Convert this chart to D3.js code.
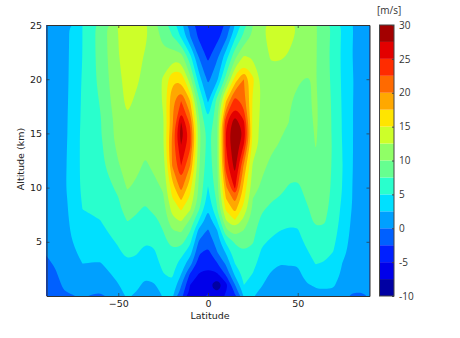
<!DOCTYPE html>
<html>
<head>
<meta charset="utf-8">
<script src="https://cdnjs.cloudflare.com/ajax/libs/d3/7.8.5/d3.min.js"></script>
<style>
  html, body { margin: 0; background: #fff; }
  svg { display: block; }
  text { font-family: "DejaVu Sans", sans-serif; fill: #111; }
</style>
</head>
<body>
<svg id="chart" width="460" height="338"></svg>
<script>
// zonal wind, one list per latitude, values in the order of `altitudes`
const altitudes = [0, 1, 2, 3, 4, 5, 6, 7, 8, 9, 10, 12, 14, 15, 16, 18, 20, 22, 24, 25];
const latitudes = [-90, -85, -80, -70, -60, -50, -45, -40, -35, -30, -25, -20, -15, -10, -5, 0, 5, 10, 15, 20, 25, 30, 35, 40, 45, 50, 55, 60, 65, 70, 75, 80, 85, 90];
const windByLatitude = [
  [-1.5, -1.1, -.7, -.3, .1, .3, .5, .6, .7, .8, .8, .9, 1, 1, 1, 1, 1, 1, 1, 1],
  [-1, -.6, -.2, .2, .5, .8, .9, 1, 1.1, 1.1, 1.2, 1.2, 1.3, 1.3, 1.3, 1.3, 1.4, 1.4, 1.5, 1.5],
  [-.2, .3, .7, 1, 1.4, 1.6, 1.7, 1.8, 1.9, 2, 2.2, 2.1, 2, 1.9, 1.9, 1.8, 1.7, 1.7, 1.6, 1.6],
  [.1, 1.3, 2, 2.5, 3, 3.6, 4.2, 4.6, 5, 5.2, 5.4, 5.5, 5.5, 5.5, 5.4, 5.3, 5.2, 5, 5, 5],
  [-.4, .8, 1.7, 2.4, 3, 3.7, 4.4, 5, 5.4, 5.8, 6.2, 6.8, 7, 7.3, 7.3, 7.7, 8.2, 8.4, 8.5, 8.4],
  [1.8, 2.4, 3, 3.7, 4.6, 5.3, 6, 6.5, 7, 7.4, 8, 9.8, 10.7, 11, 11, 11.7, 12, 12.4, 12.5, 12.7],
  [2.7, 3.3, 3.9, 4.6, 5.6, 6.2, 6.8, 7.6, 8.4, 9.3, 10.2, 10.9, 11.4, 11.8, 12.2, 13, 13.2, 13.6, 14.3, 15.1],
  [2.2, 3, 3.6, 4.4, 5.2, 5.9, 6.5, 7.2, 7.8, 8.6, 9.5, 10.7, 11.1, 11.4, 11.6, 12.2, 12.8, 13.4, 14.2, 15.1],
  [1.2, 2, 2.9, 3.7, 4.4, 5.1, 5.7, 6.4, 7.2, 7.9, 8.5, 9.6, 10.6, 10.8, 11, 11.4, 12, 12.2, 13, 13],
  [1.3, 2.3, 3.3, 4, 4.7, 5.4, 6, 7, 8, 8.6, 9.3, 10.5, 10.6, 10.5, 10.7, 11, 11.2, 11, 10.9, 10.7],
  [2.6, 3.6, 4.9, 5.7, 6.3, 6.9, 7.5, 8.1, 8.8, 9.6, 10.3, 11.2, 12.2, 12.2, 12.2, 12.8, 12.8, 10.6, 9.4, 8.8],
  [3, 4.5, 5.4, 6.2, 7, 8.2, 9.8, 11.8, 13.3, 14.8, 16.2, 20, 20.5, 20, 19.2, 19.5, 17, 11.5, 7.5, 6.5],
  [-1.6, .2, 2.5, 4, 6, 8.5, 10.3, 12.9, 15.3, 18, 21, 25, 27.6, 29, 27.6, 22.5, 17, 11.5, 4.5, 3.5],
  [-6, -5, -2.8, 1, 3.5, 5.6, 7.6, 9.8, 12.8, 14.5, 15.8, 20, 23.5, 23.5, 22, 17.5, 11, 6, 0, -.7],
  [-6, -6.8, -5.2, -3.7, -2.2, -.3, 1.6, 5, 7.7, 9, 9.5, 10.3, 10.7, 10.7, 10.5, 8, 3.5, 0, -3.2, -3.6],
  [-4.5, -6.8, -5.7, -4.3, -3.2, -1.6, -.3, 1.1, 2.5, 4, 4.9, 6, 6.5, 6.5, 5.2, 2.2, -.6, -3, -4.4, -4.6],
  [-6.5, -9.8, -5.5, -2.7, -.2, 1, 2.1, 5, 7.3, 8, 8.8, 9.5, 9.5, 9.5, 9.3, 8.5, 1.8, -.4, -3.5, -4],
  [-4.5, -6, -2.2, .4, 2.7, 5.4, 9.2, 12.5, 15.5, 17.5, 19.5, 24, 25, 25, 24.5, 17.2, 8.5, 4, -1, -2],
  [-3, -.2, 3, 5, 6.5, 7.8, 11.5, 15, 18.3, 21, 25.5, 28.5, 30, 30.5, 29, 24, 16, 9.5, 4.3, 2.5],
  [2.6, 5, 5.8, 6.5, 7.3, 8.8, 9.8, 11.8, 14, 15.5, 16.5, 19.5, 25, 27, 25.5, 21, 20, 13, 8, 6.8],
  [2.6, 3.4, 4.9, 5.8, 6.7, 7.7, 8.2, 8.8, 9.5, 10, 11.2, 12.1, 14, 14, 14.2, 14.6, 15.5, 12.2, 10.4, 10],
  [1.9, 2.6, 3.3, 3.9, 4.6, 5.4, 6.2, 7, 7.8, 8.6, 9.5, 10.6, 11.6, 11.6, 11.8, 12, 12, 11.3, 12, 12],
  [.8, 1.6, 2.3, 3.2, 4, 4.7, 5.5, 6.2, 7, 7.8, 8.3, 9.5, 10.5, 10.9, 11, 11.2, 11.6, 12.7, 13.3, 13.2],
  [.8, 1.5, 2.1, 2.5, 3.3, 4, 5, 5.8, 6.7, 7.3, 8.2, 9, 9.9, 10.2, 10.6, 10.6, 11, 12.8, 13.8, 13.8],
  [.8, 1.4, 2, 2.7, 3.2, 3.9, 4.7, 5.5, 6.1, 6.7, 7.3, 8.3, 9.2, 9.7, 10, 10.2, 10.6, 12.2, 13.4, 13.5],
  [.8, 1.3, 2, 2.6, 3.4, 4.2, 4.8, 5.5, 6.1, 6.7, 7.2, 8.2, 8.9, 9.2, 9.4, 9.6, 10.2, 11.5, 12.1, 12.2],
  [1.6, 2.3, 3.3, 4, 4.7, 5.5, 6.2, 6.9, 7.2, 7.7, 8, 8.7, 9, 9.1, 9.3, 9.7, 9.9, 11, 11.2, 11.2],
  [2, 2.7, 4, 5.1, 5.9, 6.6, 7.2, 7.9, 8.3, 8.7, 9, 9.6, 10.1, 10.2, 10.3, 10.3, 10.1, 10.2, 10.2, 10.2],
  [2, 2.8, 3.9, 4.8, 5.8, 6.5, 7.2, 7.7, 8.1, 8.4, 8.6, 9, 9.1, 9, 9, 8.9, 8.7, 8.5, 8.7, 8.8],
  [1.9, 2.7, 3.5, 4.3, 4.9, 5.4, 5.8, 6.2, 6.5, 6.7, 6.9, 7, 7.1, 7, 7, 6.9, 6.7, 6.6, 6.7, 6.8],
  [1, 1.5, 2.1, 2.4, 3.1, 3.5, 3.9, 4.2, 4.4, 4.7, 4.9, 5, 4.9, 4.8, 4.8, 4.7, 4.6, 4.5, 4.6, 4.7],
  [-.2, .6, 1.1, 1.4, 1.7, 1.9, 2.1, 2.3, 2.5, 2.6, 2.6, 2.7, 2.7, 2.7, 2.7, 2.7, 2.8, 2.6, 2.7, 2.7],
  [-.3, .5, .8, 1.1, 1.2, 1.2, 1.3, 1.3, 1.4, 1.4, 1.4, 1.4, 1.5, 1.5, 1.5, 1.5, 1.5, 1.5, 1.5, 1.5],
  [.1, .6, .8, .9, 1, 1, 1, 1, 1, 1, 1, 1, 1, 1, 1, 1, 1, 1, 1, 1],
];
const levels = [-10, -7.5, -5, -2.5, 0, 2.5, 5, 7.5, 10, 12.5, 15, 17.5, 20, 22.5, 25, 27.5, 30];
const levelColors = ["#0000a3", "#0000ea", "#0020ff", "#0060ff", "#00a0ff", "#00e0ff", "#29ffcd", "#66ff90", "#90ff66", "#cdff29", "#ffe500", "#ffa800", "#ff6a00", "#ff2c00", "#e30000", "#a30000"];
const xTicks = [-50, 0, 50];
const yTicks = [5, 10, 15, 20, 25];
const barTicks = [-10, -5, 0, 5, 10, 15, 20, 25, 30];

const plot = { left: 46.5, right: 369.5, top: 25, bottom: 296 };
const bar = { left: 379.5, right: 394 };

const svg = d3.select("#chart");
const xScale = d3.scaleLinear().domain([-90, 90]).range([plot.left, plot.right]);
const yScale = d3.scaleLinear().domain([0, 25]).range([plot.bottom, plot.top]);
const barScale = d3.scaleLinear().domain([-10, 30]).range([plot.bottom, plot.top]);

// d3.contours works in grid index space, grid points sit at index + 0.5
// not clamped: rings run past the frame and get clipped, so rounding never shows at the edge
const xIndex = d3.scaleLinear().domain(latitudes.map((d, i) => i + 0.5)).range(latitudes.map(xScale));
const yIndex = d3.scaleLinear().domain(altitudes.map((d, i) => i + 0.5)).range(altitudes.map(yScale));

const grid = [];
altitudes.forEach((a, j) => latitudes.forEach((l, i) => grid.push(windByLatitude[i][j])));
const contours = d3.contours().size([latitudes.length, altitudes.length]).thresholds(levels.slice(0, -1))(grid);

svg.append("clipPath").attr("id", "plot-clip").append("rect")
  .attr("x", plot.left).attr("y", plot.top)
  .attr("width", plot.right - plot.left).attr("height", plot.bottom - plot.top);

const ringLine = d3.line().x((d) => xIndex(d[0])).y((d) => yIndex(d[1])).curve(d3.curveBasisClosed);
const contourPath = (c) => c.coordinates.map((poly) => poly.map((ring) => ringLine(ring.slice(0, -1))).join("")).join("");

svg.append("g").attr("clip-path", "url(#plot-clip)")
  .selectAll("path").data(contours).join("path")
  .attr("d", contourPath)
  .attr("fill", (d, i) => levelColors[i])
  .attr("fill-rule", "evenodd");

function frame(g) {
  g.selectAll(".domain").attr("stroke", "#333").attr("stroke-width", 1);
  g.selectAll(".tick line").attr("stroke", "#333").attr("stroke-width", 0.7);
  g.selectAll("text").attr("font-size", 9.5).style("fill", "#222");
}

svg.append("g").attr("transform", `translate(0,${plot.bottom})`)
  .call(d3.axisBottom(xScale).tickValues(xTicks).tickSize(-3).tickSizeOuter(0).tickPadding(4)).call(frame);
svg.append("g").attr("transform", `translate(0,${plot.top})`)
  .call(d3.axisTop(xScale).tickValues(xTicks).tickSize(-3).tickSizeOuter(0).tickFormat("")).call(frame);
svg.append("g").attr("transform", `translate(${plot.left},0)`)
  .call(d3.axisLeft(yScale).tickValues(yTicks).tickSize(-3).tickSizeOuter(0).tickPadding(4.5)).call(frame);
svg.append("g").attr("transform", `translate(${plot.right},0)`)
  .call(d3.axisRight(yScale).tickValues(yTicks).tickSize(-3).tickSizeOuter(0).tickFormat("")).call(frame);

svg.append("text").attr("x", 210).attr("y", 319).attr("text-anchor", "middle").attr("font-size", 9.5).style("fill", "#222").text("Latitude");
svg.append("text").attr("transform", "translate(24,159) rotate(-90)").attr("text-anchor", "middle").attr("font-size", 9.5).style("fill", "#222").text("Altitude (km)");

// colour bar
svg.append("g").selectAll("rect").data(levelColors).join("rect")
  .attr("x", bar.left).attr("width", bar.right - bar.left)
  .attr("y", (d, i) => barScale(levels[i + 1]))
  .attr("height", (d, i) => barScale(levels[i]) - barScale(levels[i + 1]))
  .attr("fill", (d) => d);
svg.append("rect").attr("x", bar.left).attr("y", plot.top)
  .attr("width", bar.right - bar.left).attr("height", plot.bottom - plot.top)
  .attr("fill", "none").attr("stroke", "#444");

const barAxis = svg.append("g").attr("transform", `translate(${bar.right},0)`)
  .call(d3.axisRight(barScale).tickValues(barTicks).tickSize(-2).tickSizeOuter(0).tickPadding(5).tickFormat((d) => String(d)));
barAxis.select(".domain").remove();
barAxis.selectAll(".tick line").attr("stroke", "#444");
barAxis.selectAll("text").attr("font-size", 10).style("font-family", "'Open Sans', sans-serif").style("fill", "#333");

svg.append("text").attr("x", 377).attr("y", 14).attr("font-size", 10)
  .style("font-family", "'Open Sans', sans-serif").style("fill", "#333").text("[m/s]");
</script>
</body>
</html>
